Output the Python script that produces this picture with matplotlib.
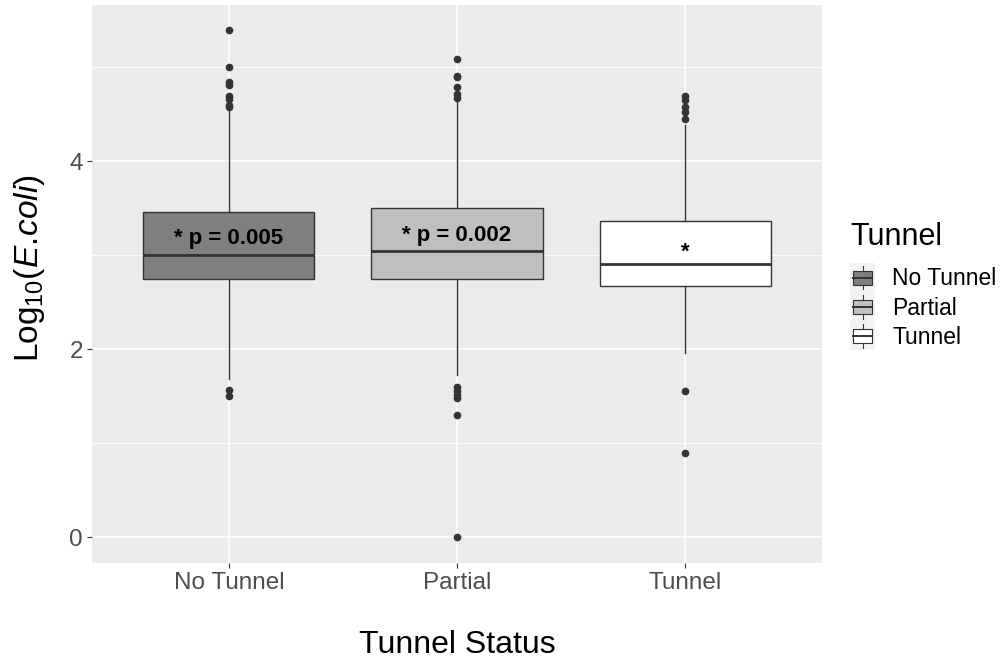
import matplotlib
matplotlib.use("Agg")
import matplotlib.pyplot as plt
from matplotlib.legend_handler import HandlerBase
from matplotlib.patches import Rectangle
from matplotlib.lines import Line2D

plt.rcParams['font.family'] = ['Liberation Sans', 'DejaVu Sans']
plt.rcParams['mathtext.fontset'] = 'custom'
plt.rcParams['mathtext.rm'] = 'Liberation Sans'
plt.rcParams['mathtext.it'] = 'Liberation Sans:italic'

categories = ["No Tunnel", "Partial", "Tunnel"]
q1 = [2.745, 2.745, 2.67]
med = [3.00, 3.04, 2.90]
q3 = [3.455, 3.50, 3.36]
whislo = [1.68, 1.72, 1.96]
whishi = [4.54, 4.65, 4.38]
outliers = [
    [5.39, 5.00, 4.84, 4.81, 4.69, 4.66, 4.60, 4.57, 1.56, 1.50],
    [5.09, 4.91, 4.89, 4.79, 4.71, 4.67, 1.60, 1.55, 1.51, 1.48, 1.30, 0.0],
    [4.69, 4.65, 4.57, 4.52, 4.45, 1.55, 0.90],
]
fills = ["#7F7F7F", "#BFBFBF", "#FFFFFF"]
annot_text = ["* p = 0.005", "* p = 0.002", "*"]
annot_y = [3.18, 3.21, 3.03]

fig = plt.figure(figsize=(10.07, 6.61), dpi=100)
ax = fig.add_axes([0.0914, 0.148, 0.7249, 0.8444])
ax.set_facecolor("#EBEBEB")
for s in ax.spines.values():
    s.set_visible(False)

edge = "#333333"
stats = []
for i, c in enumerate(categories):
    stats.append(dict(label=c, q1=q1[i], med=med[i], q3=q3[i],
                      whislo=whislo[i], whishi=whishi[i], fliers=outliers[i]))
pos = list(range(1, len(categories) + 1))
bp = ax.bxp(stats, positions=pos, widths=0.75, patch_artist=True,
            showcaps=False, zorder=3,
            boxprops=dict(edgecolor=edge, linewidth=1.0),
            medianprops=dict(color=edge, linewidth=2.0),
            whiskerprops=dict(color=edge, linewidth=1.0),
            flierprops=dict(marker='o', markerfacecolor=edge, markeredgecolor=edge,
                            markersize=4.5, linestyle='none'))
for patch, f in zip(bp['boxes'], fills):
    patch.set_facecolor(f)

for i in range(len(categories)):
    ax.text(pos[i], annot_y[i], annot_text[i], ha='center', va='center',
            fontsize=16, fontweight='bold', color='black', zorder=5)

ax.set_xlim(0.4, 3.6)
ax.set_ylim(-0.277, 5.66)
ax.set_yticks([0, 2, 4])
ax.set_yticks([1, 3, 5], minor=True)
ax.set_xticks(pos)
ax.set_xticklabels(categories)
ax.grid(True, which='major', color='white', linewidth=1.1, zorder=0)
ax.grid(True, which='minor', color='white', linewidth=0.55, zorder=0)
ax.set_axisbelow(True)
ax.tick_params(axis='both', which='major', labelsize=17.5, labelcolor='#4D4D4D',
               color='#333333', length=3.5, pad=3)
ax.tick_params(axis='both', which='minor', length=0)

fig.text(457 / 1007, 1 - 645 / 661, "Tunnel Status", fontsize=23, ha='center', va='center')
fig.text(30 / 1007, 1 - 268 / 661, r"Log$_{10}$($\mathit{E.\!coli}$)", fontsize=24,
         ha='center', va='center', rotation=90)


class BoxHandler(HandlerBase):
    def __init__(self, fill):
        super().__init__()
        self.fill = fill

    def create_artists(self, legend, orig_handle, xdescent, ydescent, width, height, fontsize, trans):
        arts = []
        bg = Rectangle((-xdescent, -ydescent - 2), width, height + 4, facecolor='#F2F2F2',
                       edgecolor='none', transform=trans)
        arts.append(bg)
        cx = -xdescent + width / 2
        arts.append(Line2D([cx, cx], [-ydescent, height - ydescent],
                           color=edge, linewidth=0.8, transform=trans))
        bw = width * 0.78
        bh = height * 0.6
        by = -ydescent + (height - bh) / 2
        arts.append(Rectangle((cx - bw / 2, by), bw, bh, facecolor=self.fill, edgecolor=edge,
                              linewidth=0.8, transform=trans))
        arts.append(Line2D([cx - bw / 2, cx + bw / 2], [by + bh / 2, by + bh / 2], color=edge,
                           linewidth=1.4, transform=trans))
        return arts


fig.text(850 / 1007, 1 - 237 / 661, "Tunnel", fontsize=22, ha='left', va='center')

handles = [Rectangle((0, 0), 1, 1, label=c) for c in categories]
hmap = {h: BoxHandler(f) for h, f in zip(handles, fills)}
leg = fig.legend(handles=handles, labels=categories, handler_map=hmap,
                 loc='upper left', bbox_to_anchor=(850 / 1007, 1 - 266 / 661), frameon=False,
                 fontsize=16.5,
                 handlelength=1.1, handleheight=1.2, handletextpad=0.75,
                 labelspacing=0.2, borderaxespad=0, borderpad=0)

fig.savefig("out.png", dpi=100)
